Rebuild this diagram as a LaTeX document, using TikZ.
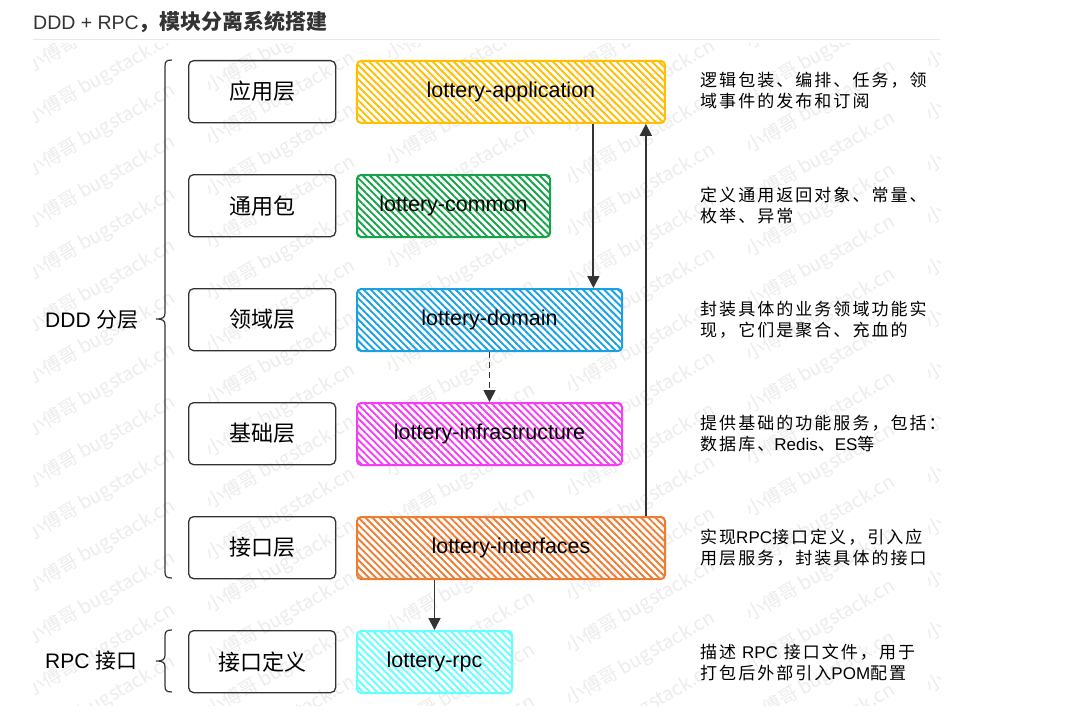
\documentclass[tikz,border=0pt]{standalone}
\usepackage{fontspec}
\setmainfont{Liberation Sans}
\newfontfamily\cjk{Noto Sans CJK SC}
\newfontfamily\cjkls[LetterSpace=12]{Noto Sans CJK SC}
\newfontfamily\latf{Liberation Sans}
\usetikzlibrary{patterns.meta,arrows.meta,calc}
\definecolor{ink}{HTML}{333333}
\definecolor{rulec}{HTML}{E8E8E8}
\definecolor{wmc}{HTML}{EDEDED}
\definecolor{cyel}{HTML}{FFBF00}
\definecolor{cgrn}{HTML}{17A34A}
\definecolor{cblu}{HTML}{1BA1E2}
\definecolor{cmag}{HTML}{F53DF5}
\definecolor{corg}{HTML}{EE7D31}
\definecolor{ccya}{HTML}{66FFFF}
\tikzset{
  layerbox/.style={draw=ink, line width=1.3pt, rounded corners=5pt, minimum width=147pt,
    minimum height=62pt, inner sep=0pt, anchor=north west, font=\cjk\fontsize{22}{26}\selectfont},
  modbox/.style={draw=#1, line width=2pt, rounded corners=4pt, minimum height=62pt, inner sep=0pt,
    anchor=north west, pattern={Lines[angle=-45,distance=5pt,line width=1.9pt]}, pattern color=#1,
    font=\fontsize{21.5}{25}\selectfont},
  notebox/.style={anchor=west, align=left, inner sep=0pt, font=\cjkls\fontsize{17}{21}\selectfont},
  sidelabel/.style={anchor=west, inner sep=0pt, font=\fontsize{21}{25}\selectfont},
  arr/.style={draw=ink, line width=1.8pt, -{Triangle[width=12pt,length=12pt]}},
  wm/.style={text=wmc, inner sep=0pt, font=\cjk\fontsize{19}{22}\selectfont},
  bracepath/.style={draw=ink, line width=1.2pt},
}
\begin{document}
\begin{tikzpicture}[x=1pt,y=-1pt]
\useasboundingbox[fill=white] (0,0) rectangle (1082,725);

% watermark
\begin{scope}
\clip (33,44) rectangle (940,705);
\foreach \i in {0,...,5}{
  \foreach \j in {-4,...,14}{
    \node[wm, anchor=south west, rotate=30] at ({33+180*\i},{130+20*\i+52*\j}) {小傅哥 bugstack.cn};
  }
}
\end{scope}

% title
\node[anchor=west, inner sep=0pt, text=ink, font=\fontsize{19.5}{22}\selectfont] (title) at (33,22)
  {DDD + RPC{\cjk\bfseries\fontsize{21}{24}\selectfont ，模块分离系统搭建}};
\draw[rulec, line width=1pt] (33,40) -- (940,40);

% layer boxes
\node[layerbox] (l1) at (188,60) {应用层};
\node[layerbox] (l2) at (188,174) {通用包};
\node[layerbox] (l3) at (188,288) {领域层};
\node[layerbox] (l4) at (188,402) {基础层};
\node[layerbox] (l5) at (188,516) {接口层};
\node[layerbox] (l6) at (188,630) {接口定义};

% module boxes
\node[modbox=cyel, minimum width=308pt] (app) at (356,60) {lottery-application};
\node[modbox=cgrn, minimum width=193pt] (com) at (356,174) {lottery-common};
\node[modbox=cblu, minimum width=265pt] (dom) at (356,288) {lottery-domain};
\node[modbox=cmag, minimum width=265pt] (inf) at (356,402) {lottery-infrastructure};
\node[modbox=corg, minimum width=308pt] (itf) at (356,516) {lottery-interfaces};
\node[modbox=ccya, minimum width=155pt] (rpc) at (356,630) {lottery-rpc};

% arrows
\coordinate (a1) at ($(app.south west)!0.766!(app.south east)$);
\draw[arr] (a1) -- (a1 |- dom.north);
\draw[arr, dash pattern=on 6pt off 4pt] (dom.south) -- (inf.north);
\coordinate (a3) at ($(itf.north west)!0.935!(itf.north east)$);
\draw[arr] (a3) -- (a3 |- app.south);
\draw[arr] (itf.south -| rpc.north) -- (rpc.north);

% braces
\draw[bracepath] (172,60) .. controls (166.5,60) and (165,61.5) .. (165,66) -- (165,313)
  .. controls (165,317.5) and (163,319) .. (156,319)
  .. controls (163,319) and (165,320.5) .. (165,325) -- (165,572)
  .. controls (165,576.5) and (166.5,578) .. (172,578);
\draw[bracepath] (172,630) .. controls (166.5,630) and (165,631.5) .. (165,636) -- (165,655)
  .. controls (165,659.5) and (163,661) .. (156,661)
  .. controls (163,661) and (165,662.5) .. (165,667) -- (165,686)
  .. controls (165,690.5) and (166.5,692) .. (172,692);
\node[sidelabel] (ddd) at (45,320) {DDD {\cjk 分层}};
\node[sidelabel] (rpcl) at (45,661) {RPC {\cjk 接口}};

% notes
\node[notebox] (n1) at (700,91) {逻辑包装、编排、任务，领\\域事件的发布和订阅};
\node[notebox] (n2) at (700,206) {定义通用返回对象、常量、\\枚举、异常};
\node[notebox] (n3) at (700,320) {封装具体的业务领域功能实\\现，它们是聚合、充血的};
\node[notebox] (n4) at (700,434) {提供基础的功能服务，包括：\\数据库、{\latf Redis}、{\latf ES}等};
\node[notebox] (n5) at (700,548) {实现{\latf RPC}接口定义，引入应\\用层服务，封装具体的接口};
\node[notebox] (n6) at (700,662) {描述 {\latf RPC} 接口文件，用于\\打包后外部引入{\latf POM}配置};
\end{tikzpicture}
\end{document}
